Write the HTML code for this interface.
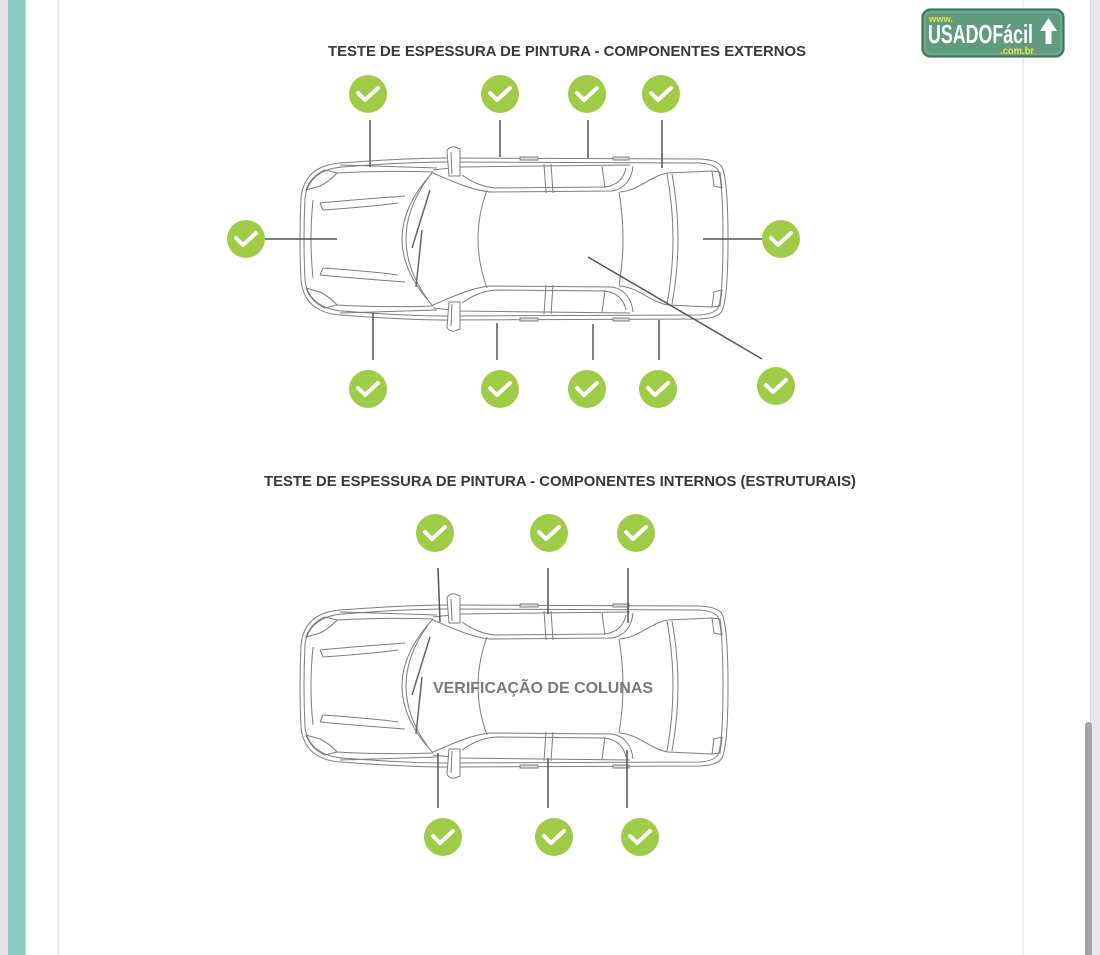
<!DOCTYPE html>
<html><head><meta charset="utf-8">
<style>
html,body{margin:0;padding:0;background:#fff;}
svg{display:block;}
</style></head>
<body>
<svg width="1100" height="955" viewBox="0 0 1100 955" xmlns="http://www.w3.org/2000/svg">
<defs>
  <g id="chk">
    <circle cx="0" cy="0" r="19" fill="#9fcc46"/>
    <polyline points="-10,-1 -3,6 10,-6" fill="none" stroke="#fff" stroke-width="4" stroke-linecap="round" stroke-linejoin="round"/>
  </g>
  <g id="half" fill="none" stroke="#7d7d7d" stroke-width="1">
    <path d="M337,173 C370,171 410,171 433,172"/>
    <path d="M433,170 L460,167 L630,165"/>
    <path d="M433,173 C450,180 470,190 490,192 L612,191 C625,189 632,178 633,166"/>
    <path d="M462,175 C472,182 482,187 496,188 L604,187 C617,186 624,178 626,168"/>
    <path d="M544,164 L546,193 M551,164 L553,193"/>
    <path d="M602,166 L605,188"/>
    <path d="M620,192 C640,190 650,176 668,173 L712,171"/>
    <path d="M449,176 L447,151 Q449,146 455,147 L460,149 L460,176 Z" fill="#fff"/>
    <path d="M452,174 L451,152"/>
    <rect x="520" y="157" width="18" height="3" fill="#ddd"/>
    <rect x="613" y="157" width="16" height="3" fill="#ddd"/>
    <path d="M320,203 C350,200 380,198 405,196"/>
    <path d="M323,210 C350,208 378,206 398,203"/>
    <path d="M320,203 L323,210"/>
    <path d="M306,190 Q311,176 325,170 L337,173 Q330,181 320,186 Z"/>
    <path d="M712,171 L720,172 L722,188 L714,186 Z"/>
    <path d="M340,165 L437,168"/>
  </g>
  <g id="car" fill="none" stroke="#7d7d7d" stroke-width="1">
    <path d="M340,163 C380,160 420,158 450,158 L700,159 Q718,160 722,167 Q728,180 728,239 Q728,298 722,311 Q718,318 700,319 L450,320 C420,320 380,318 340,315 C315,313 303,300 301,280 Q299,239 301,198 C303,178 315,165 340,163 Z"/>
    <path d="M342,167 C380,164 420,162 450,162 L700,163 Q714,164 718,170 Q723,182 723,239 Q723,296 718,308 Q714,314 700,315 L450,316 C420,316 380,314 342,311 C320,309 307,298 305,280 Q303,239 305,198 C307,180 320,169 342,167 Z"/>
    <path d="M313,200 Q309,239 313,278"/>
    <path d="M433,172 Q371,239 433,306"/>
    <path d="M428,178 Q384,239 428,300"/>
    <path d="M487,190 Q469,239 487,288"/>
    <path d="M619,192 Q627,239 619,286"/>
    <path d="M667,174 Q679,239 667,304"/>
    <path d="M672,174 Q684,239 672,304"/>
    <path d="M430,190 L412,248 M422,230 L416,287" stroke="#666" stroke-width="1.5"/>
    <use href="#half"/>
    <use href="#half" transform="matrix(1,0,0,-1,0,478)"/>
  </g>
</defs>

<!-- background chrome -->
<rect x="0" y="0" width="8" height="955" fill="#e3e3e9"/>
<rect x="8" y="0" width="17" height="955" fill="#8ccac3"/>
<rect x="25" y="0" width="1.5" height="955" fill="#c5e5e0"/>
<rect x="57.5" y="0" width="1.5" height="955" fill="#e3e3e3"/>
<rect x="1022.5" y="0" width="1.5" height="955" fill="#ebebeb"/>
<rect x="1090" y="0" width="10" height="955" fill="#e7e7ed"/>
<rect x="1090" y="0" width="1" height="955" fill="#dadae0"/>
<rect x="1085" y="722" width="7" height="240" rx="3.5" fill="#a4a4a4"/>

<!-- logo -->
<rect x="921" y="8" width="144" height="50" rx="9" fill="#d5e2da"/>
<rect x="922.5" y="9.5" width="141" height="47" rx="8" fill="#5f9b7c" stroke="#3d7a5a" stroke-width="2"/>
<rect x="925" y="12" width="136" height="42" rx="6" fill="none" stroke="#8dbba3" stroke-width="0.8"/>
<text x="929" y="22" font-family="Liberation Sans, sans-serif" font-weight="bold" font-size="9" fill="#e4e44c" textLength="24" lengthAdjust="spacingAndGlyphs">www.</text>
<text x="928" y="43" font-family="Liberation Sans Narrow, Liberation Sans, sans-serif" font-weight="bold" font-size="26" fill="#fff" textLength="105" lengthAdjust="spacingAndGlyphs">USADOFácil</text>
<text x="1000" y="54" font-family="Liberation Sans, sans-serif" font-weight="bold" font-size="10" fill="#e4e44c" textLength="34" lengthAdjust="spacingAndGlyphs">.com.br</text>
<path d="M1040,31 L1048.5,18 L1057,31 L1051.5,31 L1051.5,44 L1045.5,44 L1045.5,31 Z" fill="#fff"/>

<!-- titles -->
<text x="328" y="56" font-family="Liberation Sans, sans-serif" font-weight="bold" font-size="15" fill="#383838" textLength="478" lengthAdjust="spacingAndGlyphs">TESTE DE ESPESSURA DE PINTURA - COMPONENTES EXTERNOS</text>
<text x="264" y="486" font-family="Liberation Sans, sans-serif" font-weight="bold" font-size="15" fill="#383838" textLength="592" lengthAdjust="spacingAndGlyphs">TESTE DE ESPESSURA DE PINTURA - COMPONENTES INTERNOS (ESTRUTURAIS)</text>

<!-- car 1 -->
<use href="#car"/>
<g stroke="#555" stroke-width="1.5" fill="none">
  <path d="M370,120 L370,167 M500,120 L500,157 M588,120 L588,158 M662,120 L662,168"/>
  <path d="M265,239 L337,239 M703,239 L762,239"/>
  <path d="M373,313 L373,360 M497,323 L497,360 M593,324 L593,360 M659,320 L659,360"/>
  <path d="M588,257 L762,359"/>
</g>
<use href="#chk" x="368" y="94"/>
<use href="#chk" x="500" y="94"/>
<use href="#chk" x="587" y="94"/>
<use href="#chk" x="661" y="94"/>
<use href="#chk" x="246" y="239"/>
<use href="#chk" x="781" y="239"/>
<use href="#chk" x="368" y="389"/>
<use href="#chk" x="500" y="389"/>
<use href="#chk" x="587" y="389"/>
<use href="#chk" x="658" y="389"/>
<use href="#chk" x="776" y="386"/>

<!-- car 2 -->
<use href="#car" transform="translate(0,447)"/>
<text x="433" y="693" font-family="Liberation Sans, sans-serif" font-weight="bold" font-size="16" fill="#7a7a7a" textLength="220" lengthAdjust="spacingAndGlyphs">VERIFICAÇÃO DE COLUNAS</text>
<g stroke="#555" stroke-width="1.5" fill="none">
  <path d="M438,568 L440,622 M548,568 L548,614 M628,568 L628,623"/>
  <path d="M438,753 L438,808 M548,758 L548,808 M627,750 L627,808"/>
</g>
<use href="#chk" x="435" y="533"/>
<use href="#chk" x="549" y="533"/>
<use href="#chk" x="636" y="533"/>
<use href="#chk" x="443" y="837"/>
<use href="#chk" x="554" y="837"/>
<use href="#chk" x="640" y="837"/>
</svg>
</body></html>
